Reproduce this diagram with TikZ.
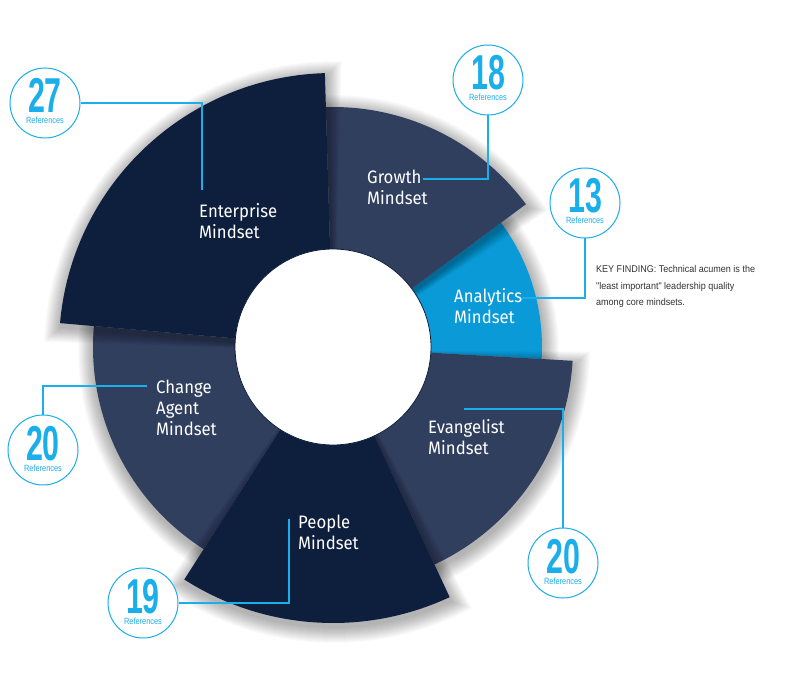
\documentclass[tikz,border=0pt]{standalone}
\usepackage{fontspec}
\usetikzlibrary{positioning}
\newfontfamily\labelfont[FakeStretch=0.93]{Fira Sans}
\newfontfamily\numfont[FakeStretch=0.62]{Liberation Sans}
\newfontfamily\reffont[FakeStretch=0.82]{Liberation Sans}
\newfontfamily\notefont[FakeStretch=0.92]{Liberation Sans}
\definecolor{navydark}{HTML}{0E1F3D}
\definecolor{navymid}{HTML}{303F5E}
\definecolor{skyblue}{HTML}{0A9AD8}
\definecolor{refcyan}{HTML}{1AAEEB}
\definecolor{notegray}{HTML}{333333}
% one sector of the ring: start angle, end angle, radius, colour
\newcommand\mindsector[4]{%
  \foreach \k in {1,...,16}
    \fill[black, opacity=0.018, shift={(1,-4)}] (0,0) -- ({#1-0.2*\k}:{#3+\k})
      arc[start angle={#1-0.2*\k}, end angle={#2+0.2*\k}, radius={#3+\k}] -- cycle;
  \fill[#4] (0,0) -- (#1:#3) arc[start angle=#1, end angle=#2, radius=#3] -- cycle;
}
\begin{document}
\begin{tikzpicture}[x=1pt, y=1pt,
    mlabel/.style = {text=white, font=\labelfont\fontsize{18}{21}\selectfont, align=left, inner sep=0, anchor=base west},
    refcircle/.style = {circle, draw=refcyan, line width=1, fill=white, minimum size=70, inner sep=0},
    refnum/.style = {text=refcyan, font=\numfont\bfseries\fontsize{49}{49}\selectfont, inner sep=0, text depth=0pt, anchor=base},
    reftext/.style = {text=refcyan, font=\reffont\fontsize{9}{10}\selectfont, inner sep=0, text height=6.5pt, anchor=base},
    leader/.style = {draw=refcyan, line width=1.1}]
    \useasboundingbox (0,0) rectangle (800,673);
    \fill[white] (0,0) rectangle (800,673);

    % the ring
    \begin{scope}[shift={(333,326)}]
        \mindsector{-3.3}{36.5}{209}{skyblue}
        \mindsector{-65}{-3.3}{240}{navymid}
        \mindsector{175}{237.4}{240}{navymid}
        \mindsector{36.5}{91.7}{240}{navymid}
        \mindsector{-122.6}{-65}{276}{navydark}
        \mindsector{91.7}{175}{274}{navydark}
        \node[circle, fill=white, draw=navydark, line width=0.8, minimum size=196, inner sep=0] (hole) at (0,0) {};
    \end{scope}

    % sector labels (placed by their last baseline)
    \node[mlabel] (lent) at (199,434) {Enterprise\\Mindset};
    \node[mlabel] (lgro) at (367,468) {Growth\\Mindset};
    \node[mlabel] (lana) at (454,349) {Analytics\\Mindset};
    \node[mlabel] (leva) at (428,219) {Evangelist\\Mindset};
    \node[mlabel] (lpeo) at (298,124) {People\\Mindset};
    \node[mlabel] (lcha) at (156,238) {Change\\Agent\\Mindset};

    % reference counts
    \foreach \name/\at/\num in {n27/{45,570}/27, n18/{488,593}/18, n13/{585,470}/13,
                               n20e/{563,110}/20, n19/{143,70}/19, n20c/{43,223}/20} {
        \node[refcircle] (\name) at (\at) {};
        \node[refnum] (\name-num) at ([yshift=-10]\name.center) {\num};
        \node[reftext] (\name-txt) at ([yshift=-21]\name.center) {References};
    }

    \coordinate (e27) at (202,483);
    \coordinate (e18) at (423,494);
    \coordinate (e13) at (522,375);
    \coordinate (e20e) at (464,264);
    \coordinate (e19) at (289,154);
    \coordinate (e20c) at (147,287);
    \draw[leader] (n27.east) -| (e27);
    \draw[leader] (n18.south) |- (e18);
    \draw[leader] (n13.south) |- (e13);
    \draw[leader] (n20e.north) |- (e20e);
    \draw[leader] (n19.east) -| (e19);
    \draw[leader] (n20c.north) |- (e20c);

    \node[text=notegray, font=\notefont\fontsize{9.8}{16.5}\selectfont, align=left, inner sep=0, anchor=base west] (note) at (596,367)
        {KEY FINDING: Technical acumen is the\\"least important" leadership quality\\among core mindsets.};
\end{tikzpicture}
\end{document}
